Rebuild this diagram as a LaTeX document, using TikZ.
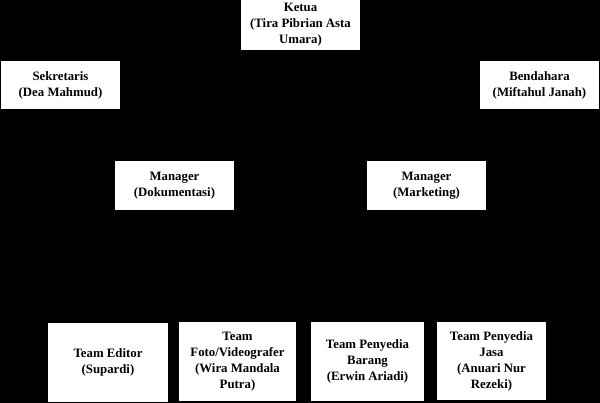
\documentclass[tikz,border=0pt]{standalone}
\usepackage{fontspec}
\setmainfont{Liberation Serif}
\begin{document}
\begin{tikzpicture}[x=1pt,y=-1pt,
  box/.style={fill=white,draw=none,inner sep=0pt,align=center,
    font=\fontsize{12.8}{16}\selectfont\bfseries},
  link/.style={draw=black,line width=1pt}]
\fill[black] (0,0) rectangle (600,403);
\useasboundingbox (0,0) rectangle (600,403);
\newcommand{\boxat}[6]{%
  \node[box,minimum width={#4-#2},minimum height={#5-#3}] (#1) at ({(#2+#4)/2},{(#3+#5)/2}) {#6};}
\boxat{ketua}{241}{0}{360}{50}{Ketua\\(Tira Pibrian Asta\\Umara)}
\boxat{sek}{1}{61}{120}{109}{Sekretaris\\(Dea Mahmud)}
\boxat{ben}{480}{61}{599}{109}{Bendahara\\(Miftahul Janah)}
\boxat{mdok}{115}{161}{234}{210}{Manager\\(Dokumentasi)}
\boxat{mmkt}{367}{161}{486}{210}{Manager\\(Marketing)}
\boxat{edit}{48}{323}{168}{402}{Team Editor\\(Supardi)}
\boxat{foto}{179}{322}{296}{401}{Team\\Foto/Videografer\\(Wira Mandala\\Putra)}
\boxat{barang}{311}{322}{424}{401}{Team Penyedia\\Barang\\(Erwin Ariadi)}
\boxat{jasa}{437}{322}{546}{400}{Team Penyedia\\Jasa\\(Anuari Nur\\Rezeki)}
\draw[link] (ketua.south) |- (sek.east);
\draw[link] (ketua.south) |- (ben.west);
\draw[link] (ketua.south) -- ++(0,30) -| (mdok.north);
\draw[link] (ketua.south) -- ++(0,30) -| (mmkt.north);
\draw[link] (mdok.south) -- ++(0,55) -| (edit.north);
\draw[link] (mdok.south) -- ++(0,55) -| (foto.north);
\draw[link] (mmkt.south) -- ++(0,55) -| (barang.north);
\draw[link] (mmkt.south) -- ++(0,55) -| (jasa.north);
\end{tikzpicture}
\end{document}
